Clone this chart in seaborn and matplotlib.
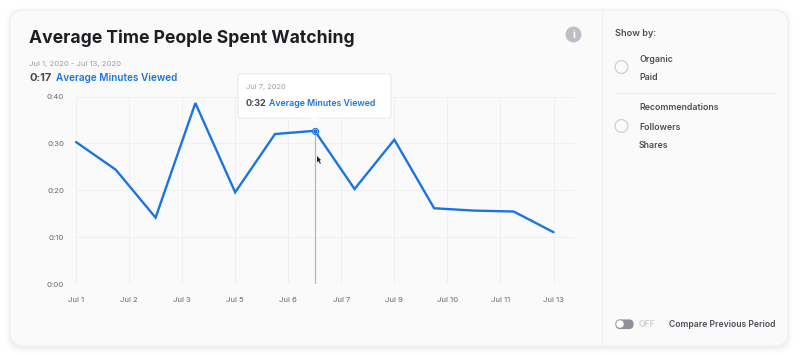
import numpy as np
import pandas as pd
import matplotlib
matplotlib.use("Agg")
import matplotlib.pyplot as plt
from matplotlib.patches import FancyBboxPatch, Circle, Polygon
import seaborn as sns

# data
days = ["Jul 1", "Jul 2", "Jul 3", "Jul 4", "Jul 5", "Jul 6", "Jul 7",
        "Jul 8", "Jul 9", "Jul 10", "Jul 11", "Jul 12", "Jul 13"]
seconds = [30.3, 24.4, 14.2, 38.6, 19.6, 32.0, 32.7, 20.3, 30.8, 16.2, 15.7, 15.5, 11.1]
tick_labels = ["Jul 1", "Jul 2", "Jul 3", "Jul 5", "Jul 6", "Jul 7", "Jul 9", "Jul 10", "Jul 11", "Jul 13"]
y_values = [0, 10, 20, 30, 40]
y_labels = ["0:00", "0:10", "0:20", "0:30", "0:40"]
hover_day = 6

BLUE = "#1b74e4"
W, H = 800, 355

sns.set_theme(style="white")
plt.rcParams["font.family"] = ["Inter", "DejaVu Sans"]

df = pd.DataFrame({"day": np.arange(len(days)), "seconds": seconds})

fig = plt.figure(figsize=(8, 3.55), dpi=100, facecolor="white")

# card behind everything, in pixel coordinates
bg = fig.add_axes([0, 0, 1, 1], zorder=0)
bg.set_xlim(0, W)
bg.set_ylim(H, 0)
bg.axis("off")
for grow, alpha in [(5, 0.008), (3.5, 0.012), (2, 0.016), (1, 0.02)]:
    bg.add_patch(FancyBboxPatch((22 - grow, 24 - grow), 754 + 2 * grow, 312 + 2 * grow,
                                boxstyle="round,pad=12,rounding_size=14", linewidth=0,
                                facecolor="black", alpha=alpha))
bg.add_patch(FancyBboxPatch((22, 22), 754, 312, boxstyle="round,pad=12,rounding_size=14",
                            facecolor="#fafafa", edgecolor="#f0f0f1", linewidth=0.8))
bg.plot([601.5, 601.5], [10, 346], color="#efeff0", lw=0.9)
bg.plot([615, 775], [92.5, 92.5], color="#ececed", lw=0.8)

# chart
ax = fig.add_axes([76 / W, 1 - 284.3 / H, (575 - 76) / W, (284.3 - 96.5) / H], zorder=1)
ax.patch.set_alpha(0)
sns.lineplot(data=df, x="day", y="seconds", ax=ax, color=BLUE, linewidth=1.7,
             solid_joinstyle="miter", errorbar=None, zorder=4, clip_on=False)
ax.set_xlim(0, 12 * 499 / 477.5)
ax.set_ylim(0, 40)
ax.set_xticks(np.linspace(0, 12, len(tick_labels)), tick_labels)
ax.set_yticks(y_values, y_labels)
ax.set_xlabel("")
ax.set_ylabel("")
ax.tick_params(axis="both", length=0, labelsize=5.6, labelcolor="#65676b")
ax.tick_params(axis="x", pad=9)
ax.tick_params(axis="y", pad=8.6)
ax.grid(True, color="#f0f0f1", linewidth=0.7)
ax.set_axisbelow(True)
sns.despine(ax=ax, left=True, bottom=True, top=True, right=True)

ax.plot([hover_day, hover_day], [0, seconds[hover_day]], color="#b8b8b8", lw=0.9, zorder=3)
ax.scatter([hover_day], [seconds[hover_day]], s=20, facecolor="#9cc3f3", edgecolor=BLUE,
           linewidth=0.7, zorder=5, clip_on=False)
ax.scatter([hover_day], [seconds[hover_day]], s=3, color=BLUE, zorder=6, clip_on=False)

# overlay for text and controls
fg = fig.add_axes([0, 0, 1, 1], zorder=2)
fg.set_xlim(0, W)
fg.set_ylim(H, 0)
fg.axis("off")
fg.patch.set_alpha(0)


def label(x, y, s, size, color, weight="normal", ha="left"):
    fg.text(x, y, s, fontsize=size, color=color, fontweight=weight, ha=ha, va="center")


label(29, 38, "Average Time People Spent Watching", 12.63, "#1c1e21", "bold")
label(29, 64, "Jul 1, 2020 - Jul 13, 2020", 5.55, "#9a9da1")
label(29, 78, "0:17", 8.0, "#444950", "bold")
label(55.5, 78, "Average Minutes Viewed", 7.2, BLUE, "semibold")

# info icon
fg.add_patch(Circle((573.5, 34.5), 8, facecolor="#bcc0c6", edgecolor="none"))
fg.text(573.5, 34.8, "i", fontsize=7.5, color="white", fontweight="bold", ha="center", va="center")

# tooltip
fg.add_patch(FancyBboxPatch((239, 75), 151, 42, boxstyle="round,pad=1,rounding_size=2",
                            facecolor="white", edgecolor="#e6e7e9", linewidth=0.7))
fg.add_patch(Polygon([[310, 117.5], [320, 117.5], [315, 122.5]], facecolor="white", edgecolor="none"))
label(246, 87, "Jul 7, 2020", 5.4, "#9a9da1")
label(246, 104, "0:32", 6.6, "#444950", "bold")
label(269, 104, "Average Minutes Viewed", 6.3, BLUE, "semibold")

# mouse pointer
fg.add_patch(Polygon([[317, 156], [317, 162.5], [318.6, 161], [320, 164], [320.8, 163.4], [319.7, 160.6], [321, 160]],
                     facecolor="#222222", edgecolor="none"))

# side panel
label(615, 33, "Show by:", 6.6, "#4b4f56", "semibold")
label(639, 59, "Organic", 6.3, "#4b4f56", "semibold")
label(639, 78, "Paid", 6.3, "#4b4f56", "semibold")
label(639, 108, "Recommendations", 6.3, "#4b4f56", "semibold")
label(639, 127, "Followers", 6.3, "#4b4f56", "semibold")
label(639, 146, "Shares", 6.3, "#4b4f56", "semibold")
fg.add_patch(Circle((621.5, 67), 6.4, facecolor="#fbfbfb", edgecolor="#ccd0d5", linewidth=0.9))
fg.add_patch(Circle((621.5, 126), 6.4, facecolor="#fbfbfb", edgecolor="#ccd0d5", linewidth=0.9))

# toggle
fg.add_patch(FancyBboxPatch((620, 324), 9, 0.5, boxstyle="round,pad=4.6,rounding_size=4.8",
                            facecolor="#8d9096", edgecolor="none"))
fg.add_patch(Circle((620, 324), 4, facecolor="white", edgecolor="#9b9ea3", linewidth=0.4))
label(639, 324.5, "OFF", 6.2, "#ccd0d5", "semibold")
label(669, 324.5, "Compare Previous Period", 6.2, "#4b4f56", "semibold")

fig.savefig("out.png", dpi=100, facecolor="white")
